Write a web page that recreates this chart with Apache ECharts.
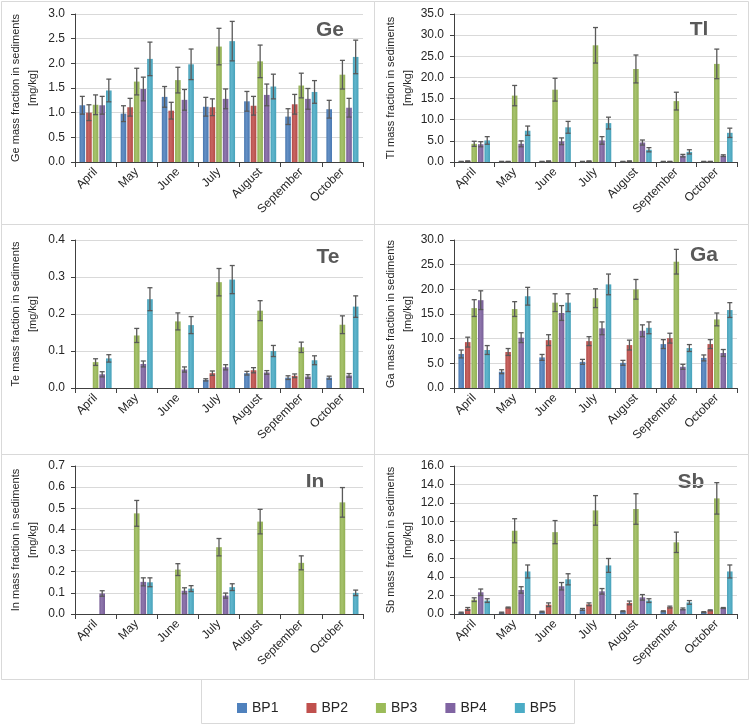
<!DOCTYPE html>
<html>
<head>
<meta charset="utf-8">
<script src="https://cdn.jsdelivr.net/npm/echarts@6/dist/echarts.min.js"></script>
<style>
  html, body { margin: 0; padding: 0; background: #fff; }
  #main { width: 749px; height: 728px; }
</style>
</head>
<body>
<div id="main"></div>
<script>
var months = ['April', 'May', 'June', 'July', 'August', 'September', 'October'];
var sites = ['BP1', 'BP2', 'BP3', 'BP4', 'BP5'];
var colors = ['#4F81BD', '#C0504D', '#9BBB59', '#8064A2', '#4BACC6'];

// mean values, one row per site (BP1..BP5), one column per month
var geMean = [
  [1.15, 0.98, 1.32, 1.12, 1.23, 0.92, 1.07],
  [1.00, 1.11, 1.04, 1.11, 1.14, 1.17, null],
  [1.16, 1.63, 1.66, 2.34, 2.04, 1.55, 1.77],
  [1.15, 1.48, 1.26, 1.28, 1.36, 1.28, 1.10],
  [1.45, 2.09, 1.98, 2.45, 1.53, 1.42, 2.13]
];
var geErr = [
  [0.18, 0.16, 0.21, 0.19, 0.20, 0.16, 0.18],
  [0.16, 0.18, 0.17, 0.17, 0.19, 0.20, null],
  [0.20, 0.27, 0.26, 0.37, 0.33, 0.25, 0.29],
  [0.18, 0.24, 0.21, 0.20, 0.22, 0.21, 0.19],
  [0.23, 0.34, 0.31, 0.40, 0.25, 0.23, 0.34]
];
var tlMean = [
  [0.1, 0.1, 0.1, 0.1, 0.1, 0.1, 0.1],
  [0.2, 0.1, 0.2, 0.2, 0.2, 0.1, 0.1],
  [4.3, 15.7, 17.1, 27.6, 22.0, 14.4, 23.2],
  [4.2, 4.3, 4.9, 5.1, 4.6, 1.5, 1.5],
  [5.1, 7.4, 8.2, 9.2, 2.9, 2.4, 6.9]
];
var tlErr = [
  [0.05, 0.05, 0.05, 0.05, 0.05, 0.05, 0.05],
  [0.05, 0.05, 0.05, 0.05, 0.05, 0.05, 0.05],
  [0.6, 2.4, 2.7, 4.2, 3.3, 2.1, 3.5],
  [0.6, 0.7, 0.8, 0.9, 0.6, 0.3, 0.2],
  [0.9, 1.1, 1.4, 1.4, 0.5, 0.5, 1.1]
];
var teMean = [
  [null, null, null, 0.022, 0.040, 0.028, 0.028],
  [null, null, null, 0.040, 0.048, 0.033, null],
  [0.070, 0.142, 0.180, 0.286, 0.209, 0.110, 0.171],
  [0.037, 0.065, 0.050, 0.056, 0.042, 0.031, 0.034],
  [0.080, 0.240, 0.170, 0.293, 0.100, 0.075, 0.220]
];
var teErr = [
  [null, null, null, 0.003, 0.005, 0.005, 0.004],
  [null, null, null, 0.006, 0.007, 0.005, null],
  [0.009, 0.019, 0.023, 0.037, 0.027, 0.014, 0.024],
  [0.007, 0.008, 0.007, 0.007, 0.005, 0.005, 0.005],
  [0.010, 0.031, 0.023, 0.038, 0.015, 0.012, 0.029]
];
var gaMean = [
  [6.9, 3.3, 6.2, 5.3, 5.1, 8.9, 6.1],
  [9.3, 7.3, 9.7, 9.5, 8.7, 10.1, 8.9],
  [16.2, 16.0, 17.3, 18.2, 20.0, 25.6, 13.9],
  [17.8, 10.2, 15.2, 12.1, 11.6, 4.3, 7.1],
  [7.7, 18.6, 17.3, 21.0, 12.2, 8.1, 15.8]
];
var gaErr = [
  [0.8, 0.4, 0.6, 0.5, 0.5, 0.9, 0.6],
  [1.0, 0.7, 1.1, 0.9, 1.0, 1.0, 0.9],
  [1.7, 1.5, 1.8, 1.9, 2.0, 2.5, 1.3],
  [1.9, 1.0, 1.5, 1.3, 1.2, 0.5, 0.7],
  [0.9, 1.8, 1.8, 2.1, 1.2, 0.7, 1.5]
];
var inMean = [
  [null, null, null, null, null, null, null],
  [null, null, null, null, null, null, null],
  [null, 0.476, 0.210, 0.316, 0.437, 0.242, 0.528],
  [0.097, 0.152, 0.110, 0.087, null, null, null],
  [null, 0.150, 0.120, 0.127, null, null, 0.100]
];
var inErr = [
  [null, null, null, null, null, null, null],
  [null, null, null, null, null, null, null],
  [null, 0.061, 0.028, 0.041, 0.058, 0.033, 0.070],
  [0.013, 0.019, 0.014, 0.012, null, null, null],
  [null, 0.021, 0.014, 0.016, null, null, 0.013]
];
var sbMean = [
  [0.15, 0.15, 0.25, 0.50, 0.30, 0.30, 0.20],
  [0.55, 0.70, 1.00, 1.05, 1.20, 0.75, 0.40],
  [1.55, 9.00, 8.85, 11.20, 11.35, 7.75, 12.50],
  [2.35, 2.60, 3.00, 2.45, 1.80, 0.55, 0.65],
  [1.45, 4.60, 3.75, 5.25, 1.45, 1.25, 4.60]
];
var sbErr = [
  [0.05, 0.05, 0.05, 0.10, 0.05, 0.05, 0.05],
  [0.15, 0.05, 0.20, 0.15, 0.20, 0.10, 0.05],
  [0.20, 1.30, 1.25, 1.60, 1.65, 1.10, 1.70],
  [0.35, 0.35, 0.40, 0.30, 0.30, 0.10, 0.05],
  [0.20, 0.70, 0.60, 0.75, 0.20, 0.20, 0.70]
];

// panel setup: element, data, y max, y step, grid box, title position
var panels = [
  { el: 'Ge', mean: geMean, err: geErr, max: 3.0, step: 0.5, left: 75, top: 14, width: 288, tx: 330, ty: 30 },
  { el: 'Tl', mean: tlMean, err: tlErr, max: 35, step: 5, left: 454, top: 14, width: 283, tx: 699, ty: 30 },
  { el: 'Te', mean: teMean, err: teErr, max: 0.4, step: 0.1, left: 75, top: 240, width: 288, tx: 328, ty: 257 },
  { el: 'Ga', mean: gaMean, err: gaErr, max: 30, step: 5, left: 454, top: 240, width: 283, tx: 704, ty: 255 },
  { el: 'In', mean: inMean, err: inErr, max: 0.7, step: 0.1, left: 75, top: 466, width: 288, tx: 315, ty: 482 },
  { el: 'Sb', mean: sbMean, err: sbErr, max: 16, step: 2, left: 454, top: 466, width: 283, tx: 691, ty: 482 }
];

var CAT_GAP = 0.22, BAR_GAP = 0.18;
var FONT = '"Liberation Sans", Arial, sans-serif';

function shade(hex, f) {
  var n = parseInt(hex.slice(1), 16);
  var r = (n >> 16) & 255, g = (n >> 8) & 255, b = n & 255;
  function m(c) { return Math.max(0, Math.min(255, Math.round(f > 0 ? c + (255 - c) * f : c * (1 + f)))); }
  return 'rgb(' + m(r) + ',' + m(g) + ',' + m(b) + ')';
}

function barFill(hex) {
  return new echarts.graphic.LinearGradient(0, 0, 1, 0, [
    { offset: 0, color: shade(hex, -0.08) },
    { offset: 0.4, color: shade(hex, 0.12) },
    { offset: 1, color: shade(hex, -0.06) }
  ]);
}

function errorBar(params, api) {
  var i = api.value(0), lo = api.value(1), hi = api.value(2), k = api.value(3);
  var band = api.size([1, 0])[0];
  var total = band * (1 - CAT_GAP);
  var bw = total / (5 + 4 * BAR_GAP);
  var x = api.coord([i, 0])[0] - total / 2 + k * bw * (1 + BAR_GAP) + bw / 2;
  var yl = api.coord([i, lo])[1], yh = api.coord([i, hi])[1];
  var c = 2.5;
  var st = { stroke: '#595959', lineWidth: 1.3 };
  return {
    type: 'group',
    children: [
      { type: 'line', shape: { x1: x, y1: yl, x2: x, y2: yh }, style: st },
      { type: 'line', shape: { x1: x - c, y1: yh, x2: x + c, y2: yh }, style: st },
      { type: 'line', shape: { x1: x - c, y1: yl, x2: x + c, y2: yl }, style: st }
    ]
  };
}

var grids = [], xAxes = [], yAxes = [], series = [], graphics = [];

panels.forEach(function (p, gi) {
  grids.push({ left: p.left, top: p.top, width: p.width, height: 148 });
  xAxes.push({
    type: 'category', gridIndex: gi, data: months,
    axisLine: { lineStyle: { color: '#404040', width: 1 } },
    axisTick: { show: true, length: 5, lineStyle: { color: '#404040' } },
    axisLabel: { rotate: 45, fontSize: 12, color: '#262626', fontFamily: FONT, margin: 8, interval: 0 }
  });
  yAxes.push({
    type: 'value', gridIndex: gi, min: 0, max: p.max, interval: p.step,
    name: p.el + ' mass fraction in sediments\n[mg/kg]',
    nameLocation: 'middle', nameGap: 34,
    nameTextStyle: { fontSize: 11, color: '#262626', fontFamily: FONT, lineHeight: 17 },
    axisLine: { show: true, lineStyle: { color: '#404040' } },
    axisTick: { show: true, length: 4, lineStyle: { color: '#404040' } },
    axisLabel: {
      fontSize: 12, color: '#262626', fontFamily: FONT, margin: 10,
      formatter: function (v) { return v.toFixed(1); }
    },
    splitLine: { lineStyle: { color: '#d9d9d9' } }
  });
  sites.forEach(function (s, k) {
    series.push({
      name: s, type: 'bar', xAxisIndex: gi, yAxisIndex: gi,
      data: p.mean[k], barCategoryGap: (CAT_GAP * 100) + '%', barGap: (BAR_GAP * 100) + '%',
      itemStyle: { color: barFill(colors[k]) }
    });
  });
  sites.forEach(function (s, k) {
    var pts = [];
    p.mean[k].forEach(function (m, i) {
      var e = p.err[k][i];
      if (m != null && e != null) pts.push([i, m - e, m + e, k]);
    });
    series.push({
      name: s + ' error', type: 'custom', xAxisIndex: gi, yAxisIndex: gi,
      renderItem: errorBar, data: pts, z: 10, silent: true
    });
  });
  graphics.push({
    type: 'text', x: p.tx, y: p.ty,
    style: { text: p.el, fill: '#595959', font: 'bold 21px ' + FONT, align: 'center', verticalAlign: 'middle' }
  });
});

// panel borders and legend box
var bc = '#d9d9d9';
[[1, 1, 373, 223], [374, 1, 374, 223], [1, 224, 373, 230], [374, 224, 374, 230],
 [1, 454, 373, 225], [374, 454, 374, 225], [201, 679, 373, 44]].forEach(function (r) {
  graphics.push({
    type: 'rect', shape: { x: r[0] + 0.5, y: r[1] + 0.5, width: r[2], height: r[3] },
    style: { fill: 'none', stroke: bc, lineWidth: 1 }, z: -1
  });
});

var chart = echarts.init(document.getElementById('main'));
chart.setOption({
  animation: false,
  backgroundColor: '#fff',
  color: colors,
  grid: grids,
  xAxis: xAxes,
  yAxis: yAxes,
  series: series,
  graphic: graphics,
  legend: {
    data: sites.map(function (s, k) { return { name: s, itemStyle: { color: colors[k] } }; }),
    left: 232, top: 696, icon: 'rect', itemWidth: 10, itemHeight: 10,
    itemGap: 28, textStyle: { fontSize: 14, color: '#262626', fontFamily: FONT }
  }
});
</script>
</body>
</html>
